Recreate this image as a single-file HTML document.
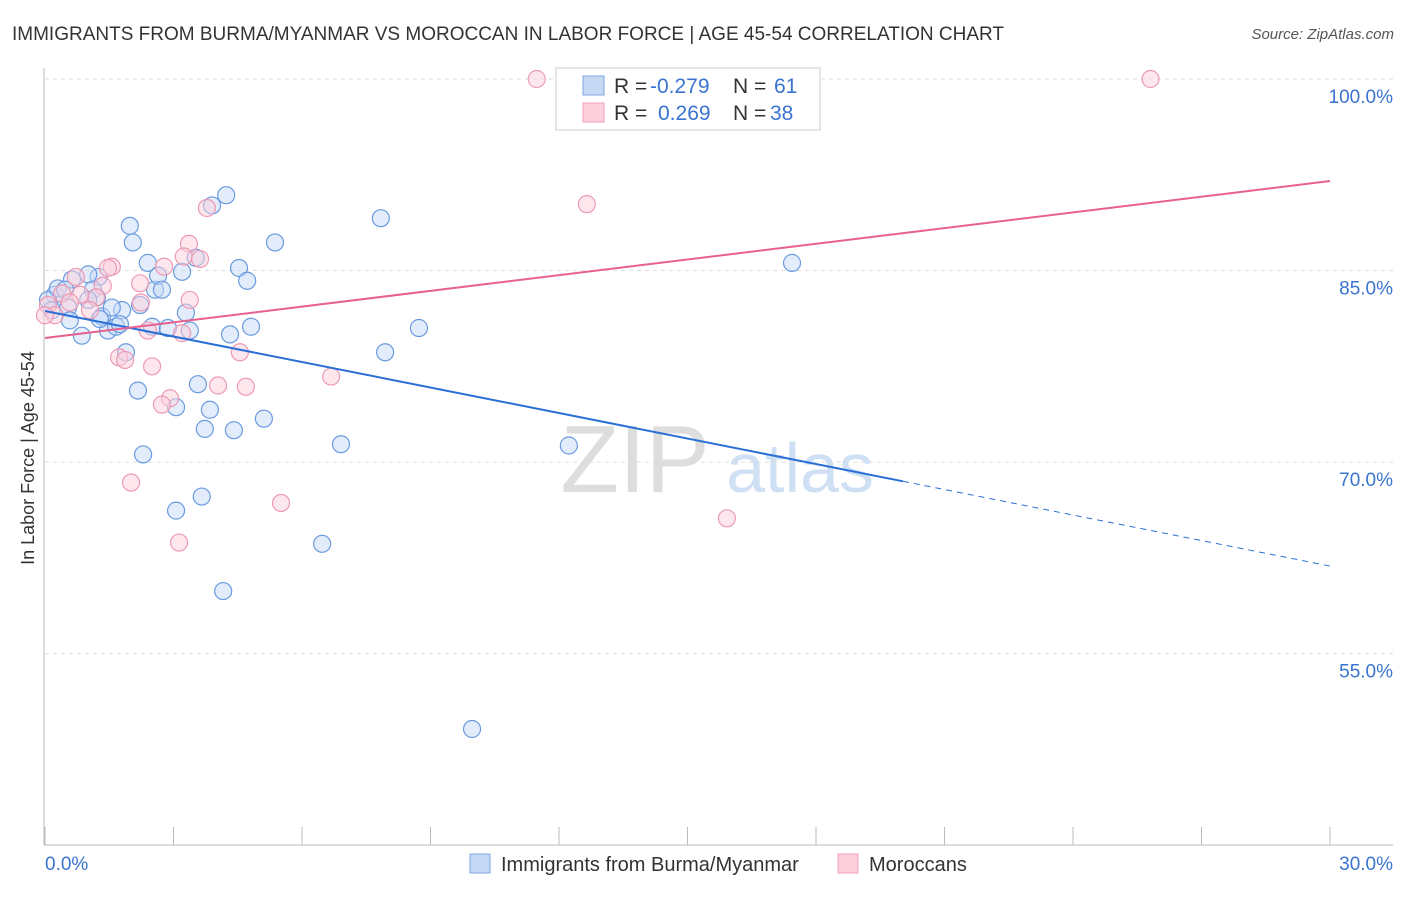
<!DOCTYPE html>
<html><head><meta charset="utf-8"><style>
body{margin:0;background:#fff;font-family:"Liberation Sans",sans-serif}
svg text{font-family:"Liberation Sans",sans-serif}
</style></head><body>
<svg id="c" width="1406" height="892">
<text x="12" y="40" font-size="19" fill="#333">IMMIGRANTS FROM BURMA/MYANMAR VS MOROCCAN IN LABOR FORCE | AGE 45-54 CORRELATION CHART</text>
<text x="1394" y="39" font-size="15" fill="#555" font-style="italic" text-anchor="end">Source: ZipAtlas.com</text>
<text x="34" y="458" font-size="18" fill="#333" text-anchor="middle" transform="rotate(-90 34 458)">In Labor Force | Age 45-54</text>
<text x="635" y="492" font-size="96" fill="#ddd" text-anchor="middle" font-family="Liberation Serif">ZIP</text>
<text x="800" y="492" font-size="70" fill="#cfe0f5" text-anchor="middle">atlas</text>
<g id="grid"></g><g id="axes"></g><g id="pts"></g><g id="lines"></g>
<g>
<rect x="556" y="68" width="264" height="62" fill="#fff" stroke="#ccc"/>
<rect x="583" y="76" width="21" height="19" fill="#c5d9f5" stroke="#7ea6e0"/>
<rect x="583" y="103" width="21" height="19" fill="#fbd0dc" stroke="#f0a0b8"/>
<text x="614" y="93" font-size="21" fill="#333">R = </text><text x="650" y="93" font-size="21" fill="#3a74d0">-0.279</text>
<text x="733" y="93" font-size="21" fill="#333">N = </text><text x="774" y="93" font-size="21" fill="#3a74d0">61</text>
<text x="614" y="120" font-size="21" fill="#333">R = </text><text x="658" y="120" font-size="21" fill="#3a74d0">0.269</text>
<text x="733" y="120" font-size="21" fill="#333">N = </text><text x="770" y="120" font-size="21" fill="#3a74d0">38</text>
</g>
<g>
<rect x="470" y="854" width="20" height="19" fill="#c5d9f5" stroke="#7ea6e0"/>
<text x="501" y="871" font-size="20" fill="#333">Immigrants from Burma/Myanmar</text>
<rect x="838" y="854" width="20" height="19" fill="#fbd0dc" stroke="#f0a0b8"/>
<text x="869" y="871" font-size="20" fill="#333">Moroccans</text>
</g>
<text x="45" y="870" font-size="19" fill="#3a74d0">0.0%</text>
<text x="1393" y="870" font-size="19" fill="#3a74d0" text-anchor="end">30.0%</text>
</svg>
<script>
const yTicks=[100,85,70,55];
const xTicks=[0,3,6,9,12,15,18,21,24,27,30];
const blueX=[1.25,1.01,0.63,0.23,0.07,0.54,0.58,0.30,0.86,1.12,1.21,1.33,1.47,1.66,1.80,1.56,1.89,1.98,2.05,2.17,2.29,2.40,2.57,2.64,2.73,2.50,2.87,3.06,3.20,3.29,3.38,3.06,3.52,3.57,3.66,3.73,3.85,3.90,4.23,4.16,4.32,4.41,4.53,4.72,4.81,5.11,5.37,6.47,6.91,7.84,7.94,8.73,9.97,12.23,17.44,2.22,1.75,1.28,1.01,0.16,0.47];
const blueY=[84.5,84.7,84.3,83.1,82.7,82.1,81.1,83.6,79.9,83.5,82.9,81.4,80.3,80.6,81.9,82.1,78.6,88.5,87.2,75.6,70.6,85.6,83.5,84.6,83.5,80.6,80.5,74.3,84.9,81.7,80.3,66.2,86.0,76.1,67.3,72.6,74.1,90.1,90.9,59.9,80.0,72.5,85.2,84.2,80.6,73.4,87.2,63.6,71.4,89.1,78.6,80.5,49.1,71.3,85.6,82.3,80.8,81.2,82.7,81.9,83.5];
const pinkX=[11.48,25.81,12.65,3.78,3.36,3.24,3.62,2.78,1.56,1.47,0.72,1.35,1.19,0.40,0.07,0.23,2.22,2.24,2.40,3.20,1.73,1.87,2.50,4.55,4.04,4.69,2.92,2.73,6.68,2.01,3.13,5.51,15.92,1.05,0.82,0.58,0.00,3.38];
const pinkY=[100,100,90.2,89.9,87.1,86.1,85.9,85.3,85.3,85.2,84.5,83.8,82.9,83.2,82.3,81.5,84.0,82.5,80.3,80.1,78.2,78.0,77.5,78.6,76.0,75.9,75.0,74.5,76.7,68.4,63.7,66.8,65.6,81.9,83.1,82.5,81.5,82.7];
const blueLine=[81.83,61.86], blueSolidEnd=20.03;
const pinkLine=[79.72,92.01];
const X=v=>45+v/30*1285, Y=v=>79+(100-v)*12.77;
const NS='http://www.w3.org/2000/svg';
function mk(tag,attrs,parent){const e=document.createElementNS(NS,tag);for(const k in attrs)e.setAttribute(k,attrs[k]);document.getElementById(parent).appendChild(e);return e;}
yTicks.forEach(v=>{
 const l=mk('line',{x1:45,x2:1393,y1:Y(v),y2:Y(v),stroke:'#ddd','stroke-dasharray':'4,4'},'grid');
 
 
 const t=mk('text',{x:1393,y:Y(v)+24,'font-size':19,fill:'#3a74d0','text-anchor':'end'},'grid');
 t.textContent=v.toFixed(1)+'%';
 
 
});
const ax=mk('line',{x1:44,x2:44,y1:68,y2:845,stroke:'#bbb'},'axes');


const bx=mk('line',{x1:44,x2:1393,y1:845,y2:845,stroke:'#bbb'},'axes');


xTicks.forEach(v=>{
 const t=mk('line',{x1:X(v),x2:X(v),y1:827,y2:845,stroke:'#bbb'},'axes');
 
 
});
function dots(xs,ys,fill,stroke,name){xs.forEach((x,i)=>{
 const c=mk('circle',{cx:X(x),cy:Y(ys[i]),r:8.5,fill:fill,'fill-opacity':0.5,stroke:stroke,'stroke-width':1.2},'pts');
 
 
});}
dots(blueX,blueY,'#c5d9f5','#6a9be0','point-burma');
dots(pinkX,pinkY,'#fbd0dc','#ec9ab4','point-moroccan');
const by=x=>blueLine[0]+(blueLine[1]-blueLine[0])*x/30;
const b1=mk('line',{x1:X(0),y1:Y(by(0)),x2:X(blueSolidEnd),y2:Y(by(blueSolidEnd)),stroke:'#2a6fd6','stroke-width':2},'lines');


const b2=mk('line',{x1:X(blueSolidEnd),y1:Y(by(blueSolidEnd)),x2:X(30),y2:Y(by(30)),stroke:'#2a6fd6','stroke-width':1,'stroke-dasharray':'6,5'},'lines');


const p1=mk('line',{x1:X(0),y1:Y(pinkLine[0]),x2:X(30),y2:Y(pinkLine[1]),stroke:'#e8608f','stroke-width':2},'lines');


</script>
</body></html>
